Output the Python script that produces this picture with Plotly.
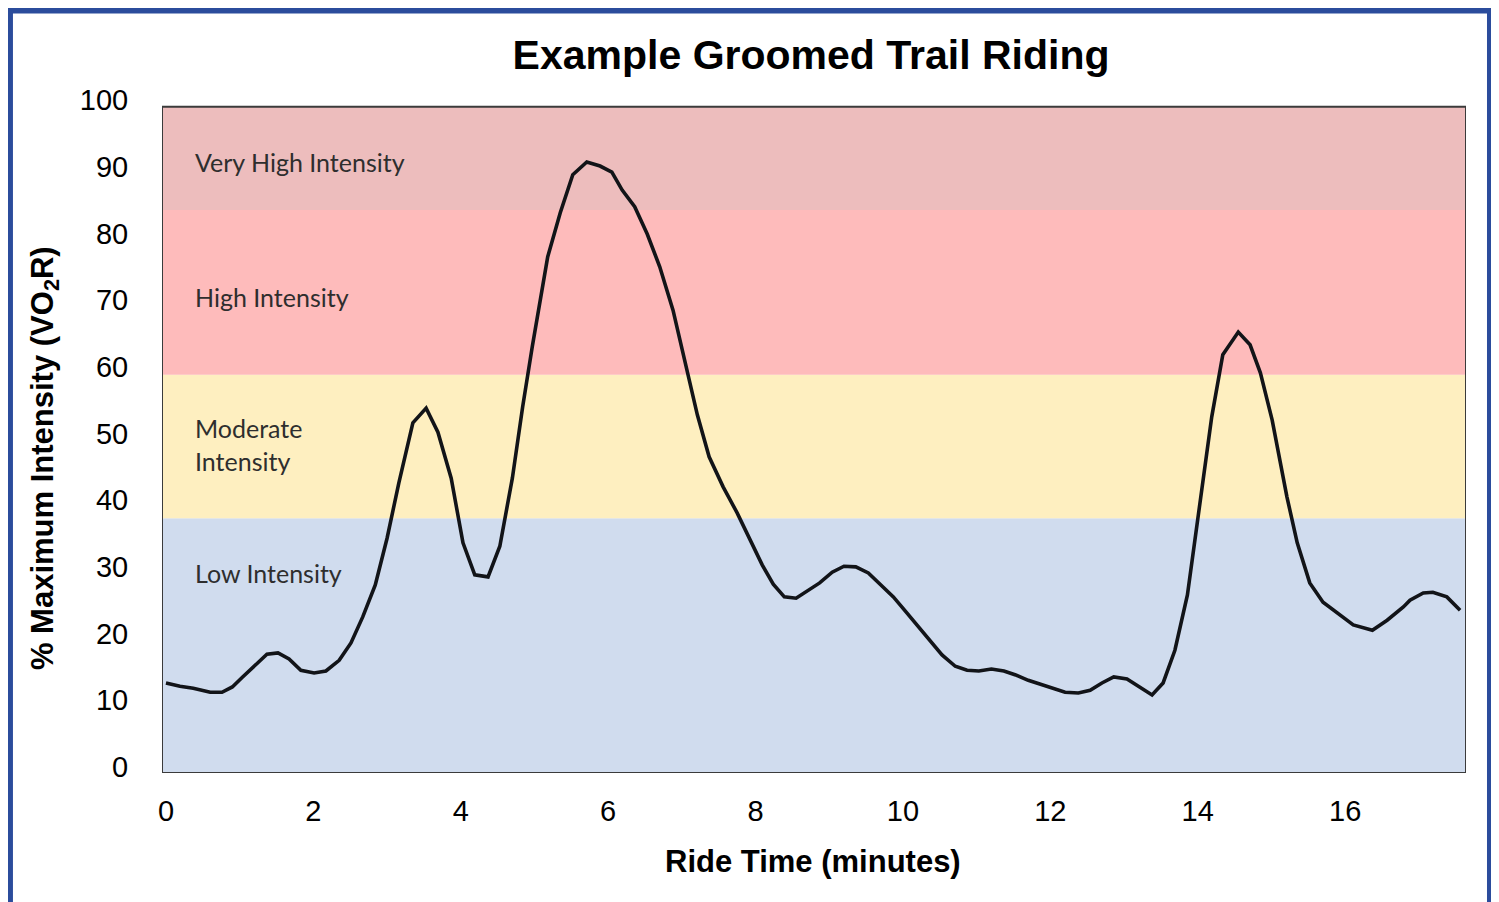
import plotly.graph_objects as go

# Ride time (minutes) and % maximum intensity (VO2R)
time_min = [0.0, 0.19, 0.37, 0.60, 0.76, 0.90, 1.04, 1.22, 1.37, 1.52, 1.67, 1.83, 2.01, 2.17,
            2.35, 2.51, 2.67, 2.84, 3.00, 3.16, 3.35, 3.53, 3.69, 3.87, 4.03, 4.19, 4.37, 4.53,
            4.70, 4.84, 4.97, 5.18, 5.35, 5.52, 5.71, 5.89, 6.05, 6.19, 6.36, 6.53, 6.70, 6.88,
            7.06, 7.21, 7.37, 7.56, 7.75, 7.93, 8.09, 8.24, 8.39, 8.55, 8.71, 8.87, 9.04, 9.20,
            9.36, 9.53, 9.69, 9.87, 10.03, 10.19, 10.35, 10.53, 10.71, 10.87, 11.03, 11.20, 11.37,
            11.53, 11.70, 11.87, 12.04, 12.20, 12.38, 12.54, 12.70, 12.86, 13.04, 13.20, 13.38,
            13.53, 13.69, 13.86, 13.99, 14.10, 14.19, 14.34, 14.55, 14.71, 14.85, 15.01, 15.21,
            15.35, 15.52, 15.70, 15.93, 16.11, 16.37, 16.57, 16.79, 16.88, 17.06, 17.19, 17.38, 17.56]
intensity = [12.6, 12.1, 11.8, 11.2, 11.2, 12.0, 13.5, 15.4, 16.9, 17.1, 16.2, 14.5, 14.1, 14.4,
             16.0, 18.6, 22.5, 27.3, 34.3, 42.6, 51.6, 53.8, 50.2, 43.3, 33.6, 28.8, 28.5, 33.1,
             43.3, 54.0, 63.0, 76.5, 83.1, 88.8, 90.7, 90.1, 89.2, 86.5, 84.0, 79.9, 75.0, 68.5,
             60.0, 52.8, 46.5, 42.0, 38.1, 34.0, 30.3, 27.4, 25.5, 25.3, 26.4, 27.6, 29.2, 30.1,
             30.0, 29.1, 27.4, 25.5, 23.4, 21.3, 19.2, 16.8, 15.1, 14.5, 14.4, 14.7, 14.4,
             13.8, 13.0, 12.4, 11.7, 11.2, 11.1, 11.5, 12.6, 13.5, 13.2, 12.0, 10.8,
             12.6, 17.5, 25.8, 36.6, 45.0, 52.5, 61.8, 65.2, 63.3, 59.1, 52.0, 40.5,
             33.6, 27.6, 24.7, 22.8, 21.3, 20.5, 22.0, 24.0, 25.0, 26.1, 26.2, 25.5, 23.5]

# Intensity zones (lower bound, upper bound) and their labels
zone_names = ["Low Intensity", "Moderate<br>Intensity", "High Intensity", "Very High Intensity"]
zone_low = [-0.9, 37.3, 58.8, 83.5]
zone_high = [37.3, 58.8, 83.5, 99.0]
zone_colors = ["#D0DCEE", "#FEEFC0", "#FEBBBB", "#EDBDBD"]
zone_label_y = [29.1, 48.3, 70.5, 90.7]

x_ticks = [0, 2, 4, 6, 8, 10, 12, 14, 16]
y_ticks = [0, 10, 20, 30, 40, 50, 60, 70, 80, 90, 100]

X_RANGE = [-0.054, 17.64]
Y_RANGE = [-0.9, 100.0]

COND = "Liberation Sans Narrow, Arial Narrow, Liberation Sans, Arial, sans-serif"
TICKFONT = dict(family="Liberation Sans, Arial, sans-serif", size=29, color="#000000")

fig = go.Figure()

fig.add_trace(go.Scatter(
    x=time_min, y=intensity, mode="lines",
    line=dict(color="#121418", width=3.6),
    showlegend=False, hoverinfo="x+y",
))

shapes = []
for lo, hi, col in zip(zone_low, zone_high, zone_colors):
    shapes.append(dict(type="rect", xref="x", yref="y", x0=X_RANGE[0], x1=X_RANGE[1],
                       y0=lo, y1=hi, fillcolor=col, line=dict(width=0), layer="below"))
# plot frame
shapes.append(dict(type="rect", xref="x", yref="y", x0=X_RANGE[0], x1=X_RANGE[1],
                   y0=zone_low[0], y1=zone_high[-1], line=dict(color="#3b3b3b", width=2),
                   fillcolor="rgba(0,0,0,0)", layer="above"))
# outer blue frame
shapes.append(dict(type="rect", xref="paper", yref="paper", x0=-0.1166, x1=1.0184,
                   y0=-0.25, y1=1.1330, line=dict(color="#2B4C9C", width=6),
                   fillcolor="rgba(0,0,0,0)", layer="above"))

annotations = []
for name, ly in zip(zone_names, zone_label_y):
    annotations.append(dict(x=0.37, y=ly, xref="x", yref="y", text=name, showarrow=False,
                            xanchor="left", yanchor="middle", align="left",
                            font=dict(family="Lato, Carlito, Open Sans, sans-serif", size=25,
                                      color="#2e2e2e")))
# axis titles
annotations.append(dict(x=-0.0897, y=0.468, xref="paper", yref="paper",
                        text="% Maximum Intensity (VO<sub>2</sub>R)", showarrow=False,
                        textangle=-90, xanchor="center", yanchor="middle",
                        font=dict(family=COND, size=31, color="#000000", weight="bold")))
annotations.append(dict(x=0.4992, y=-0.132, xref="paper", yref="paper",
                        text="Ride Time (minutes)", showarrow=False,
                        xanchor="center", yanchor="middle",
                        font=dict(family=COND, size=31, color="#000000", weight="bold")))

# the page adds an 8 px body margin, so the figure is 8 px smaller and offsets are reduced
fig.update_layout(
    width=1491, height=894,
    margin=dict(l=154, r=33, t=92, b=129),
    paper_bgcolor="#FFFFFF", plot_bgcolor="#FFFFFF",
    title=dict(text="Example Groomed Trail Riding", x=0.5386, xanchor="center",
               y=1 - 47 / 894, yanchor="middle", yref="container",
               font=dict(family=COND, size=41, color="#000000", weight="bold")),
    shapes=shapes, annotations=annotations,
    xaxis=dict(range=X_RANGE, tickvals=x_ticks, showgrid=False, zeroline=False,
               showline=False, ticks="outside", ticklen=12, tickcolor="rgba(0,0,0,0)",
               tickfont=TICKFONT, fixedrange=True),
    yaxis=dict(range=Y_RANGE, tickvals=y_ticks, showgrid=False, zeroline=False,
               showline=False, ticks="outside", ticklen=27, tickcolor="rgba(0,0,0,0)",
               tickfont=TICKFONT, fixedrange=True),
)

fig.write_html("out.html")
